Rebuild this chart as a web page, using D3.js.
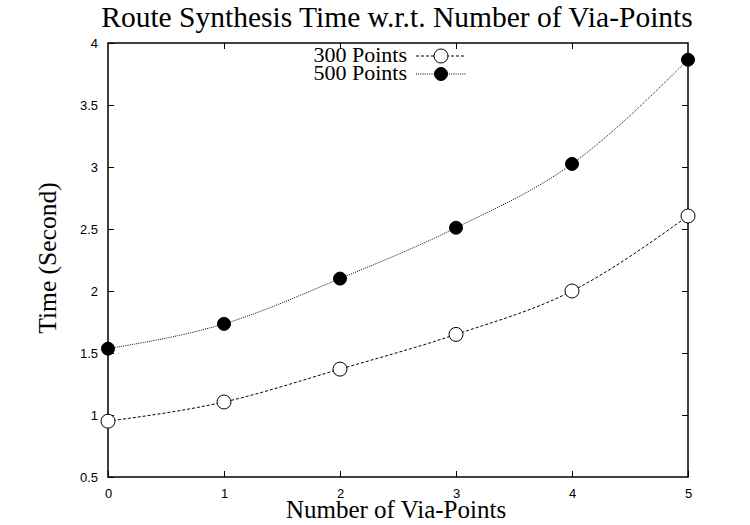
<!DOCTYPE html>
<html>
<head>
<meta charset="utf-8">
<script src="https://cdn.jsdelivr.net/npm/d3@7"></script>
<style>
	body { margin: 0; background: #fff; }
	svg { display: block; }
</style>
</head>
<body>
<div class="chart"></div>
<script>
(function() {
	var width = 750,
		height = 525;

	var viaPoints = [0, 1, 2, 3, 4, 5];
	var pts300 = [0.95, 1.105, 1.37, 1.65, 2.0, 2.605];
	var pts500 = [1.535, 1.735, 2.1, 2.51, 3.025, 3.865];
	var yTicks = [0.5, 1, 1.5, 2, 2.5, 3, 3.5, 4];
	var xTicks = [0, 1, 2, 3, 4, 5];

	var left = 108, right = 688, top = 43, bottom = 477;
	var serif = "'Liberation Serif', 'Times New Roman', serif";

	var x = d3.scaleLinear().domain([0, 5]).range([left, right]);
	var y = d3.scaleLinear().domain([0.5, 4]).range([bottom, top]);

	var svg = d3.select(".chart").append("svg")
		.attr("width", width)
		.attr("height", height);

	// title
	svg.append("text")
		.attr("x", 397).attr("y", 27)
		.attr("text-anchor", "middle")
		.style("font-family", serif)
		.style("font-size", "29.5px")
		.text("Route Synthesis Time w.r.t. Number of Via-Points");

	// axes with inward ticks, mirrored on opposite sides
	var tickFont = "'Liberation Sans', Arial, sans-serif";
	svg.append("g")
		.attr("transform", "translate(0," + bottom + ")")
		.call(d3.axisBottom(x).tickValues(xTicks).tickSize(-6).tickPadding(12).tickFormat(d3.format("d")))
		.call(styleAxis);
	svg.append("g")
		.attr("transform", "translate(0," + top + ")")
		.call(d3.axisTop(x).tickValues(xTicks.slice(1, 5)).tickSize(-6).tickFormat(""))
		.call(styleAxis);
	svg.append("g")
		.attr("transform", "translate(" + left + ",0)")
		.call(d3.axisLeft(y).tickValues(yTicks).tickSize(-6).tickPadding(10).tickFormat(d3.format("")))
		.call(styleAxis);
	svg.append("g")
		.attr("transform", "translate(" + right + ",0)")
		.call(d3.axisRight(y).tickValues(yTicks.slice(1, 7)).tickSize(-6).tickFormat(""))
		.call(styleAxis);

	function styleAxis(g) {
		g.select(".domain").remove();
		g.selectAll(".tick line").attr("stroke", "#000").attr("stroke-width", 1);
		g.selectAll(".tick text")
			.style("font-family", tickFont)
			.style("font-size", "13px")
			.attr("fill", "#000");
	}

	// frame
	svg.append("rect")
		.attr("x", left).attr("y", top)
		.attr("width", right - left).attr("height", bottom - top)
		.attr("fill", "none")
		.attr("stroke", "#000")
		.attr("stroke-width", 1.5);

	// axis labels
	svg.append("text")
		.attr("x", 396).attr("y", 518)
		.attr("text-anchor", "middle")
		.style("font-family", serif)
		.style("font-size", "25px")
		.text("Number of Via-Points");
	svg.append("text")
		.attr("transform", "translate(56,258) rotate(-90)")
		.attr("text-anchor", "middle")
		.style("font-family", serif)
		.style("font-size", "25.5px")
		.text("Time (Second)");

	var line = d3.line()
		.x(function(d, i) { return x(viaPoints[i]); })
		.y(function(d) { return y(d); })
		.curve(d3.curveMonotoneX);

	var series = [
		{ name: "300 Points", values: pts300, dash: "3,2", fill: "#fff", r: 7 },
		{ name: "500 Points", values: pts500, dash: "1,1.2", fill: "#000", r: 6.5 }
	];

	series.forEach(function(s, k) {
		svg.append("path")
			.datum(s.values)
			.attr("d", line)
			.attr("fill", "none")
			.attr("stroke", "#000")
			.attr("stroke-width", 1)
			.attr("stroke-dasharray", s.dash);

		svg.selectAll(".m" + k)
			.data(s.values)
			.enter().append("circle")
			.attr("cx", function(d, i) { return x(viaPoints[i]); })
			.attr("cy", function(d) { return y(d); })
			.attr("r", s.r)
			.attr("fill", s.fill)
			.attr("stroke", "#000")
			.attr("stroke-width", 1);

		// legend
		var ly = 56 + k * 18;
		svg.append("text")
			.attr("x", 407).attr("y", ly + 6)
			.attr("text-anchor", "end")
			.style("font-family", serif)
			.style("font-size", "22px")
			.text(s.name);
		svg.append("line")
			.attr("x1", 416).attr("x2", 466)
			.attr("y1", ly).attr("y2", ly)
			.attr("stroke", "#000")
			.attr("stroke-dasharray", s.dash);
		svg.append("circle")
			.attr("cx", 441).attr("cy", ly)
			.attr("r", s.r)
			.attr("fill", s.fill)
			.attr("stroke", "#000");
	});
})();
</script>
</body>
</html>
